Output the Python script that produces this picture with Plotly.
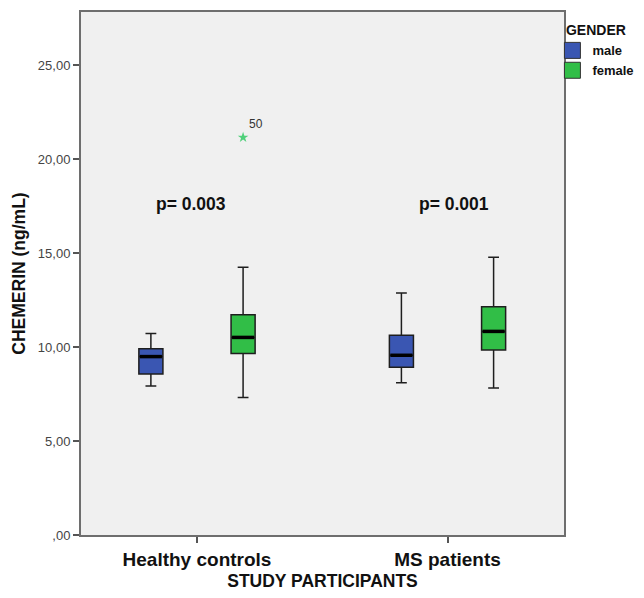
import plotly.graph_objects as go

categories = ["Healthy controls", "MS patients"]
genders = ["male", "female"]
colors = {"male": "#3a56b2", "female": "#31be47"}

# five-number summaries per gender: [Healthy controls, MS patients]
low = {"male": [7.93, 8.10], "female": [7.31, 7.82]}
q1 = {"male": [8.56, 8.92], "female": [9.66, 9.84]}
med = {"male": [9.49, 9.56], "female": [10.51, 10.83]}
q3 = {"male": [9.91, 10.62], "female": [11.72, 12.14]}
high = {"male": [10.72, 12.87], "female": [14.24, 14.77]}

outlier_cat = [0]
outlier_gender = ["female"]
outlier_val = [21.15]
outlier_lbl = ["50"]

p_values = ["p= 0.003", "p= 0.001"]
p_y = [17.6, 17.6]

y_ticks = [0, 5, 10, 15, 20, 25]
y_ticktext = [",00", "5,00", "10,00", "15,00", "20,00", "25,00"]

FONT = "Liberation Sans, Arial, sans-serif"
offset = {"male": -0.184, "female": 0.184}
box_w = 0.096

fig = go.Figure()
for g in genders:
    xs = [i + offset[g] for i in range(len(categories))]
    fig.add_trace(go.Box(
        x=xs, q1=q1[g], median=med[g], q3=q3[g],
        lowerfence=low[g], upperfence=high[g],
        name=g, width=box_w, whiskerwidth=0.45,
        fillcolor=colors[g], line=dict(color="#1e1e1e", width=1.5),
        boxpoints=False, hoverinfo="skip", showlegend=False,
    ))
    # thick median bars
    mx, my = [], []
    for x, m in zip(xs, med[g]):
        mx += [x - box_w / 2 + 0.004, x + box_w / 2 - 0.004, None]
        my += [m, m, None]
    fig.add_trace(go.Scatter(x=mx, y=my, mode="lines", line=dict(color="black", width=3.5),
                             showlegend=False, hoverinfo="skip"))

# legend entries
for g in genders:
    fig.add_trace(go.Scatter(x=[None], y=[None], mode="markers", name=g,
                             marker=dict(symbol="square", size=16, color=colors[g],
                                         line=dict(color="#333", width=1))))

fig.add_trace(go.Scatter(
    x=[c + offset[g] for c, g in zip(outlier_cat, outlier_gender)], y=outlier_val,
    mode="markers+text", marker=dict(symbol="star", size=8, color="#4fd07a"),
    text=outlier_lbl, textposition="top right",
    textfont=dict(family=FONT, size=12, color="#333"),
    showlegend=False, hoverinfo="skip"))

p_dx = [-0.024, 0.024]
for i, p in enumerate(p_values):
    fig.add_annotation(x=i + p_dx[i], y=p_y[i], text="<b>%s</b>" % p, showarrow=False,
                       font=dict(family=FONT, size=17.5, color="#111"))

# page body has an 8px margin: the figure is sized/offset to compensate
fig.update_layout(
    width=636, height=590,
    margin=dict(l=73, r=80, t=4, b=63, autoexpand=False),
    paper_bgcolor="white", plot_bgcolor="#f0f0f0",
    font=dict(family=FONT, color="#111"),
    showlegend=True,
    legend=dict(title=dict(text="<b>GENDER</b>", font=dict(size=14), side="top center"),
                x=0.976, xanchor="left", y=0.990, yanchor="top",
                font=dict(size=13, weight="bold"), bgcolor="rgba(0,0,0,0)",
                itemwidth=30, tracegroupgap=0),
)
fig.update_xaxes(range=[-0.463, 1.465], tickvals=list(range(len(categories))), ticktext=categories,
                 ticks="outside", ticklen=6, tickcolor="#555", tickwidth=1.5,
                 showgrid=False, zeroline=False,
                 showline=True, linecolor="#6e6e6e", linewidth=2, mirror=True,
                 tickfont=dict(size=19, weight="bold", color="#111"),
                 title=dict(text="<b>STUDY PARTICIPANTS</b>", font=dict(size=17.5), standoff=6))
fig.update_yaxes(range=[0, 27.82], tickvals=y_ticks, ticktext=y_ticktext,
                 ticks="outside", ticklen=6, tickcolor="#555", tickwidth=1.5,
                 showgrid=False, zeroline=False,
                 showline=True, linecolor="#6e6e6e", linewidth=2, mirror=True,
                 tickfont=dict(size=13, color="#444"),
                 title=dict(text="<b>CHEMERIN (ng/mL)</b>", font=dict(size=17.5), standoff=8))

fig.write_html("out.html")
